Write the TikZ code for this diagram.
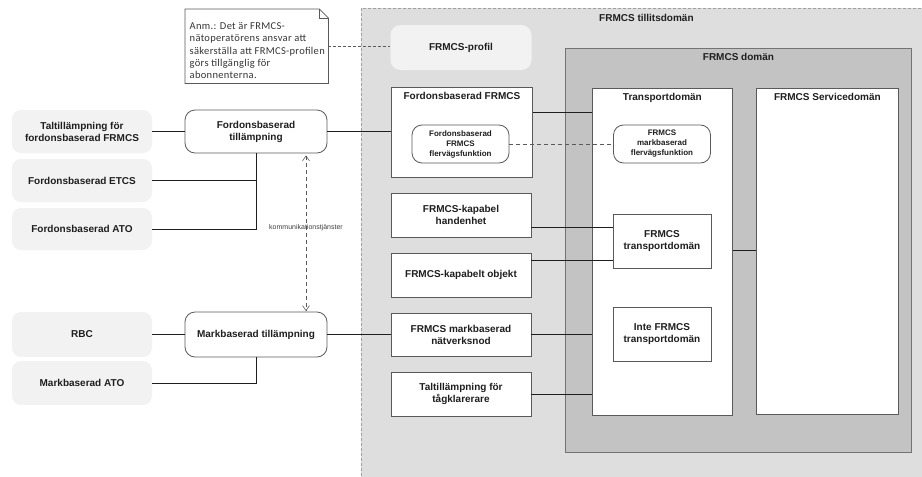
\documentclass[tikz,border=0pt]{standalone}
\usepackage{fontspec}
\setmainfont{Liberation Sans}
\newfontfamily\notefont[LetterSpace=3]{Carlito}
\usetikzlibrary{arrows.meta}

\definecolor{trustfill}{HTML}{DEDEDE}
\definecolor{domfill}{HTML}{C3C3C3}
\definecolor{softfill}{HTML}{F2F2F2}
\definecolor{edge}{HTML}{5A5A5A}
\definecolor{ink}{HTML}{1E1E1E}

\tikzset{vbarb/.tip={Straight Barb[length=5pt,width=7pt]}}

\begin{document}
\begin{tikzpicture}[x=1pt,y=-1pt,
  font=\bfseries\fontsize{10}{12}\selectfont, text=ink,
  softbox/.style={fill=softfill, draw=none, rounded corners=9pt, align=center,
    minimum width=140pt, inner sep=2pt},
  appbox/.style={draw=edge, line width=0.8pt, fill=white, rounded corners=10pt,
    align=center, minimum width=142pt, inner sep=2pt},
  plainbox/.style={draw=edge, line width=0.8pt, fill=white, align=center, inner sep=2pt},
  flowbox/.style={draw=edge, line width=0.8pt, fill=white, rounded corners=10pt,
    align=center, minimum width=97pt, minimum height=38pt, inner sep=1pt,
    font=\bfseries\fontsize{8}{10}\selectfont},
  areabox/.style={anchor=north west, inner sep=0pt},
  title/.style={anchor=north, inner sep=0pt},
  wire/.style={draw=ink, line width=0.65pt},
  dashwire/.style={draw=edge, line width=0.6pt, dash pattern=on 4pt off 3pt},
]
\useasboundingbox (0,0) rectangle (922,477);
\clip (0,0) rectangle (922,477);

% ---- trust domain and FRMCS domain ----
\node[areabox, fill=trustfill, draw=gray!75, line width=0.8pt,
      dash pattern=on 3pt off 2pt, minimum width=570pt, minimum height=480pt]
      (trust) at (361,8) {};
\node[title] (trusttitle) at ([yshift=-6pt]trust.north) {FRMCS tillitsdomän};

\node[areabox, fill=domfill, draw=gray!90!black, line width=0.9pt,
      minimum width=346pt, minimum height=404pt] (domain) at (565,48) {};
\node[title] (domaintitle) at ([yshift=-5pt]domain.north) {FRMCS domän};

\node[areabox, fill=white, draw=edge, line width=0.8pt,
      minimum width=140pt, minimum height=327pt] (transp) at (592,88) {};
\node[title] (transptitle) at ([yshift=-5pt]transp.north) {Transportdomän};

\node[areabox, fill=white, draw=edge, line width=0.8pt,
      minimum width=142pt, minimum height=326pt] (service) at (756,88) {};
\node[title] (servicetitle) at ([yshift=-5pt]service.north) {FRMCS Servicedomän};

\node[areabox, fill=white, draw=edge, line width=0.8pt,
      minimum width=141pt, minimum height=90pt] (fFRMCS) at (391,87) {};
\node[title] (fFRMCStitle) at ([yshift=-5pt]fFRMCS.north) {Fordonsbaserad FRMCS};

% ---- profile and note ----
\node[fill=softfill, rounded corners=10pt, minimum width=141pt, minimum height=45pt]
      (profil) at (461,47.5) {FRMCS-profil};

\node[areabox, minimum width=143pt, minimum height=74pt] (note) at (185,9) {};
\draw[draw=edge, line width=0.7pt, fill=white]
  (note.north west) -- ([xshift=-9pt]note.north east) -- ([yshift=-9pt]note.north east)
  -- (note.south east) -- (note.south west) -- cycle;
\draw[draw=edge, line width=0.7pt]
  ([xshift=-9pt]note.north east) -- ([xshift=-9pt,yshift=-9pt]note.north east)
  -- ([yshift=-9pt]note.north east);
\node[anchor=north west, inner sep=0pt, align=left, text=ink!90,
      font=\notefont\fontsize{10.5}{12.3}\selectfont] (notetext) at (189.5,22.5)
  {Anm.: Det är FRMCS-\\nätoperatörens ansvar att\\säkerställa att FRMCS-profilen\\görs tillgänglig för\\abonnenterna.};

% ---- boxes inside the trust domain ----
\node[flowbox] (fflerv) at (460.5,144) {Fordonsbaserad\\FRMCS\\flervägsfunktion};
\node[flowbox] (mflerv) at (662,144) {FRMCS\\markbaserad\\flervägsfunktion};

\node[plainbox, minimum width=140pt, minimum height=44pt] (hand)   at (461,215)   {FRMCS-kapabel\\handenhet};
\node[plainbox, minimum width=140pt, minimum height=44pt] (objekt) at (461,275)   {FRMCS-kapabelt objekt};
\node[plainbox, minimum width=140pt, minimum height=43pt] (natv)   at (461,334.5) {FRMCS markbaserad\\nätverksnod};
\node[plainbox, minimum width=140pt, minimum height=44pt] (tag)    at (461,394)   {Taltillämpning för\\tågklarerare};

\node[plainbox, minimum width=98pt, minimum height=54pt] (ftrans) at (662,241) {FRMCS\\transportdomän};
\node[plainbox, minimum width=98pt, minimum height=54pt] (inte)   at (662,334) {Inte FRMCS\\transportdomän};

% ---- applications on the left ----
\node[softbox, minimum height=43pt] (tal)  at (82,131.5) {Taltillämpning för\\fordonsbaserad FRMCS};
\node[softbox, minimum height=43pt] (etcs) at (82,180.5) {Fordonsbaserad ETCS};
\node[softbox, minimum height=42pt] (fato) at (82,229)   {Fordonsbaserad ATO};
\node[softbox, minimum height=45pt] (rbc)  at (82,334.5) {RBC};
\node[softbox, minimum height=44pt] (mato) at (82,383)   {Markbaserad ATO};

\node[appbox, minimum height=43pt] (fapp) at (256,131.5) {Fordonsbaserad\\tillämpning};
\node[appbox, minimum height=45pt] (mapp) at (256,334.5) {Markbaserad tillämpning};

% ---- connectors ----
\draw[wire] (tal.east) -- (fapp.west);
\draw[wire] (fapp.east) -- (fapp.east -| fFRMCS.west);
\draw[wire] (fapp.south) |- (fato.east);
\draw[wire] (etcs.east) -- (etcs.east -| fapp.south);

\draw[wire] (rbc.east) -- (mapp.west);
\draw[wire] (mapp.east) -- (mapp.east -| natv.west);
\draw[wire] (mapp.south) |- (mato.east);

\draw[dashwire, {vbarb}-{vbarb}, shorten <=2pt, shorten >=0.5pt]
  ([xshift=50pt]fapp.south) -- ([xshift=50pt]mapp.north)
  node[pos=0.47, inner sep=1pt, font=\fontsize{7}{8}\selectfont, text=ink!85] (svc)
  {kommunikationstjänster};

\draw[dashwire, dash pattern=on 3pt off 2pt] (note.east) -- (note.east -| profil.west);

\draw[wire] ([yshift=20pt]fFRMCS.east) -- ([yshift=20pt]fFRMCS.east -| transp.west);
\draw[dashwire] (fflerv.east) -- (mflerv.west);

\draw[wire] ([yshift=-12pt]hand.east) -- ([yshift=-12pt]hand.east -| ftrans.west);
\draw[wire] ([yshift=15pt]objekt.east) -- ([yshift=15pt]objekt.east -| ftrans.west);
\draw[wire] (natv.east) -- (natv.east -| transp.west);
\draw[wire] (tag.east) -- (tag.east -| transp.west);

\draw[wire] ([yshift=1.5pt]transp.east) -- ([yshift=1.5pt]transp.east -| service.west);
\end{tikzpicture}
\end{document}
